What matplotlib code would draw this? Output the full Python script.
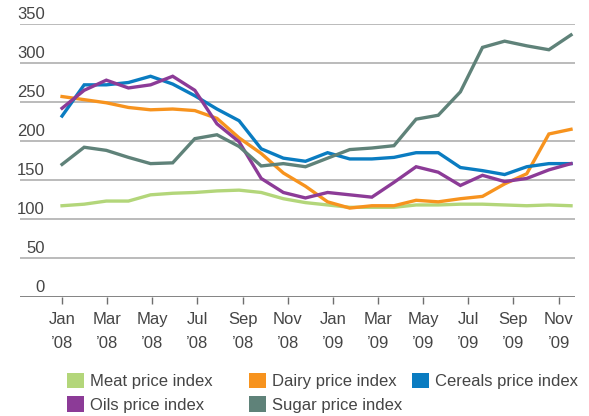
import matplotlib
matplotlib.use("Agg")
import matplotlib.pyplot as plt
from matplotlib.patches import Patch
import numpy as np

plt.rcParams['font.family'] = ['Liberation Sans Narrow', 'Liberation Sans', 'DejaVu Sans']

months = ["Jan 08","Feb 08","Mar 08","Apr 08","May 08","Jun 08","Jul 08","Aug 08","Sep 08","Oct 08","Nov 08","Dec 08",
          "Jan 09","Feb 09","Mar 09","Apr 09","May 09","Jun 09","Jul 09","Aug 09","Sep 09","Oct 09","Nov 09","Dec 09"]
tick_labels = ["Jan\n\u201908","Mar\n\u201908","May\n\u201908","Jul\n\u201908","Sep\n\u201908","Nov\n\u201908",
               "Jan\n\u201909","Mar\n\u201909","May\n\u201909","Jul\n\u201909","Sep\n\u201909","Nov\n\u201909"]

meat    = [117,119,123,123,131,133,134,136,137,134,126,121,118,115,115,115,118,118,119,119,118,117,118,117]
dairy   = [257,253,249,243,240,241,239,229,204,184,159,142,122,114,117,117,124,122,126,129,145,158,209,215]
cereals = [232,272,272,275,283,273,258,241,226,190,178,174,185,177,177,179,185,185,166,162,157,167,171,171]
oils    = [242,265,278,268,272,283,265,222,199,152,134,127,134,131,128,147,167,160,143,156,148,152,163,171]
sugar   = [170,192,188,179,171,172,203,208,193,168,171,167,178,189,191,194,228,233,263,320,328,322,317,336]
yticks = [0, 50, 100, 150, 200, 250, 300, 350]

colors = {
    "Meat price index": "#b3d67a",
    "Dairy price index": "#f7931e",
    "Cereals price index": "#0a7cc1",
    "Oils price index": "#8c3b97",
    "Sugar price index": "#5f8279",
}
series = [("Meat price index", meat), ("Dairy price index", dairy), ("Cereals price index", cereals),
          ("Oils price index", oils), ("Sugar price index", sugar)]

W, H = 589, 416
fig = plt.figure(figsize=(W/100, H/100), dpi=100)
ax = fig.add_axes([20/W, 1-297/H, 555/W, (297-24)/H])

x = np.arange(len(months))
for name, vals in series:
    ax.plot(x, vals, color=colors[name], lw=2.4, solid_joinstyle='miter', zorder=3)

ax.set_ylim(0, 350)
ax.set_xlim(-1.9, 23.18)
for v in yticks:
    if v == 0:
        ax.axhline(v, color="#6e6e6e", lw=1.2, zorder=2)
    else:
        ax.axhline(v, color="#a8a8a8", lw=1.1, zorder=1)
    ax.text(25/555, v + 3, str(v), transform=ax.get_yaxis_transform(), ha='right', va='bottom',
            fontsize=12, color="#454545")

for s in ax.spines.values():
    s.set_visible(False)
ax.set_yticks([])
tick_pos = np.arange(0, 24, 2) * 1.02
ax.set_xticks(tick_pos)
ax.set_xticklabels(tick_labels, fontsize=12, color="#454545", linespacing=1.75)
ax.tick_params(axis='x', length=5, width=1, color="#6e6e6e", pad=6)

order = [0, 3, 1, 4, 2]
handles = [Patch(facecolor=colors[series[i][0]], edgecolor='none') for i in order]
labels = [series[i][0] for i in order]
cols = [([0, 1], 67), ([2, 3], 249), ([4], 412)]
for idx, xpx in cols:
    fig.legend([handles[i] for i in idx], [labels[i] for i in idx],
               loc='upper left', bbox_to_anchor=(xpx/W, 1-373/H), frameon=False,
               fontsize=12, handlelength=1.0, handleheight=1.05, handletextpad=0.4,
               labelspacing=0.42, borderpad=0, borderaxespad=0, labelcolor="#454545")

fig.savefig("out.png", dpi=100)
